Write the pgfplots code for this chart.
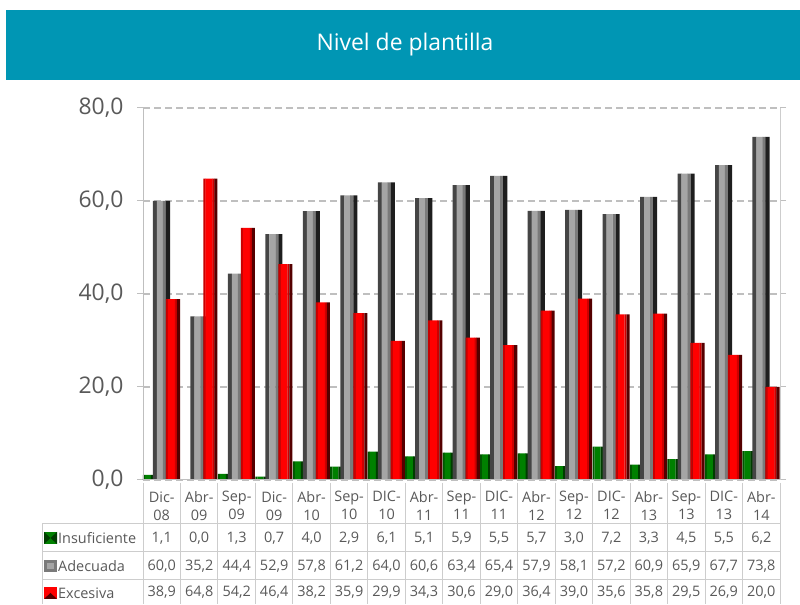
\documentclass[border=0pt]{standalone}
\usepackage{fontspec}
\setmainfont{Open Sans}
\usepackage{pgfplots}
\pgfplotsset{compat=1.18}
\usepackage{pgfplotstable}
\definecolor{teal1}{RGB}{0,150,180}
\definecolor{txt}{RGB}{89,89,89}
\definecolor{gridc}{RGB}{191,191,191}
\definecolor{tab}{RGB}{205,205,205}
\definecolor{g1}{RGB}{0,85,0}
\definecolor{g2}{RGB}{0,128,0}
\definecolor{g3}{RGB}{0,60,0}
\definecolor{a1}{RGB}{69,69,69}
\definecolor{a2}{RGB}{165,165,165}
\definecolor{a3}{RGB}{122,122,122}
\definecolor{a4}{RGB}{30,30,30}
\definecolor{r1}{RGB}{200,0,0}
\definecolor{r2}{RGB}{255,0,0}
\definecolor{r3}{RGB}{205,0,0}
\definecolor{r4}{RGB}{85,0,0}
\pgfkeys{/pgf/number format/.cd, fixed, fixed zerofill, precision=1, use comma, assume math mode=true}

\pgfplotstableread{
x ins ade exc
0 1.1 60.0 38.9
1 0.0 35.2 64.8
2 1.3 44.4 54.2
3 0.7 52.9 46.4
4 4.0 57.8 38.2
5 2.9 61.2 35.9
6 6.1 64.0 29.9
7 5.1 60.6 34.3
8 5.9 63.4 30.6
9 5.5 65.4 29.0
10 5.7 57.9 36.4
11 3.0 58.1 39.0
12 7.2 57.2 35.6
13 3.3 60.9 35.8
14 4.5 65.9 29.5
15 5.5 67.7 26.9
16 6.2 73.8 20.0
}\data

% strip of a bar: colour, width, shift, column
\newcommand\strip[4]{\addplot[ybar, draw=none, fill=#1, bar width=#2, bar shift=#3, forget plot] table[x=x, y=#4] {\data};}

\begin{document}
\begin{tikzpicture}[x=1bp,y=1bp]
\path (0,0) rectangle (800,604);
\fill[teal1] (6,524) rectangle (800,594);
\node[white, font=\fontsize{23}{27}\selectfont] at (405,559) {Nivel de plantilla};

\begin{axis}[
  at={(143bp,124bp)}, anchor=south west,
  scale only axis, width=637bp, height=372bp,
  xmin=-0.5, xmax=16.5, ymin=0, ymax=80,
  clip=false,
  axis line style={draw=none},
  ytick={0,20,40,60,80},
  xtick={0,...,16},
  xticklabels={{Dic-\\08},{Abr-\\09},{Sep-\\09},{Dic-\\09},{Abr-\\10},{Sep-\\10},{DIC-\\10},{Abr-\\11},{Sep-\\11},{DIC-\\11},{Abr-\\12},{Sep-\\12},{DIC-\\12},{Abr-\\13},{Sep-\\13},{DIC-\\13},{Abr-\\14}},
  xtick style={draw=none},
  tick align=outside,
  major tick length=6bp,
  ytick style={gridc, line width=1bp},
  ymajorgrids,
  y grid style={gridc, line width=1.6bp, dash pattern=on 7bp off 4bp},
  yticklabel style={font=\fontsize{23}{27}\selectfont, text=txt, xshift=-10bp},
  xticklabel style={font=\fontsize{14.5}{18}\selectfont, text=txt, align=center, yshift=-2bp},
  nodes near coords style={anchor=center, font=\fontsize{14.5}{18}\selectfont, text=txt},
]
% Insuficiente
\strip{g1}{0.058}{-0.474}{ins}
\strip{g2}{0.165}{-0.367}{ins}
\strip{g3}{0.110}{-0.2335}{ins}
% Adecuada
\strip{a1}{0.110}{-0.180}{ade}
\strip{a2}{0.165}{-0.047}{ade}
\strip{a3}{0.085}{0.073}{ade}
\strip{a4}{0.110}{0.167}{ade}
% Excesiva
\strip{r1}{0.058}{0.140}{exc}
\strip{r2}{0.190}{0.260}{exc}
\strip{r3}{0.058}{0.380}{exc}
\strip{r4}{0.082}{0.447}{exc}

\addplot[draw=none, mark=none, nodes near coords, point meta=explicit] table[x=x, y expr=-12.47, meta=ins] {\data};
\addplot[draw=none, mark=none, nodes near coords, point meta=explicit] table[x=x, y expr=-18.49, meta=ade] {\data};
\addplot[draw=none, mark=none, nodes near coords, point meta=explicit] table[x=x, y expr=-24.2, meta=exc] {\data};

\draw[gridc, line width=1bp] (axis cs:-0.5,0) -- (axis cs:-0.5,80);
\draw[gridc, line width=1bp] (axis cs:-0.5,0) -- (axis cs:16.5,0);
\draw[tab, line width=1bp] (axis cs:16.5,0) -- (axis cs:16.5,80);
\end{axis}

% table grid
\foreach \k in {0,...,17} {
  \draw[tab, line width=1bp] ({143+\k*37.47},121) -- ({143+\k*37.47},0);
}
\draw[tab, line width=1bp] (42,80) -- (780,80);
\draw[tab, line width=1bp] (42,52) -- (780,52);
\draw[tab, line width=1bp] (42,24) -- (780,24);
\draw[tab, line width=1bp] (42,80) -- (42,0);

% legend
\fill[g2] (44,60) rectangle (57,72);
\fill[g3] (44,60) -- (50.5,66) -- (44,72) -- cycle;
\fill[g3] (57,60) -- (50.5,66) -- (57,72) -- cycle;
\fill[a3] (44,32) rectangle (57,44);
\fill[a2] (47,35) rectangle (54,41);
\fill[r2] (44,5) rectangle (57,17);
\fill[r4] (44,5) -- (50.5,11) -- (57,5) -- cycle;
\node[anchor=west, inner sep=0pt, text=txt, font=\fontsize{14.5}{18}\selectfont] at (58,66) {Insuficiente};
\node[anchor=west, inner sep=0pt, text=txt, font=\fontsize{14.5}{18}\selectfont] at (58,38) {Adecuada};
\node[anchor=west, inner sep=0pt, text=txt, font=\fontsize{14.5}{18}\selectfont] at (58,11) {Excesiva};
\end{tikzpicture}
\end{document}
